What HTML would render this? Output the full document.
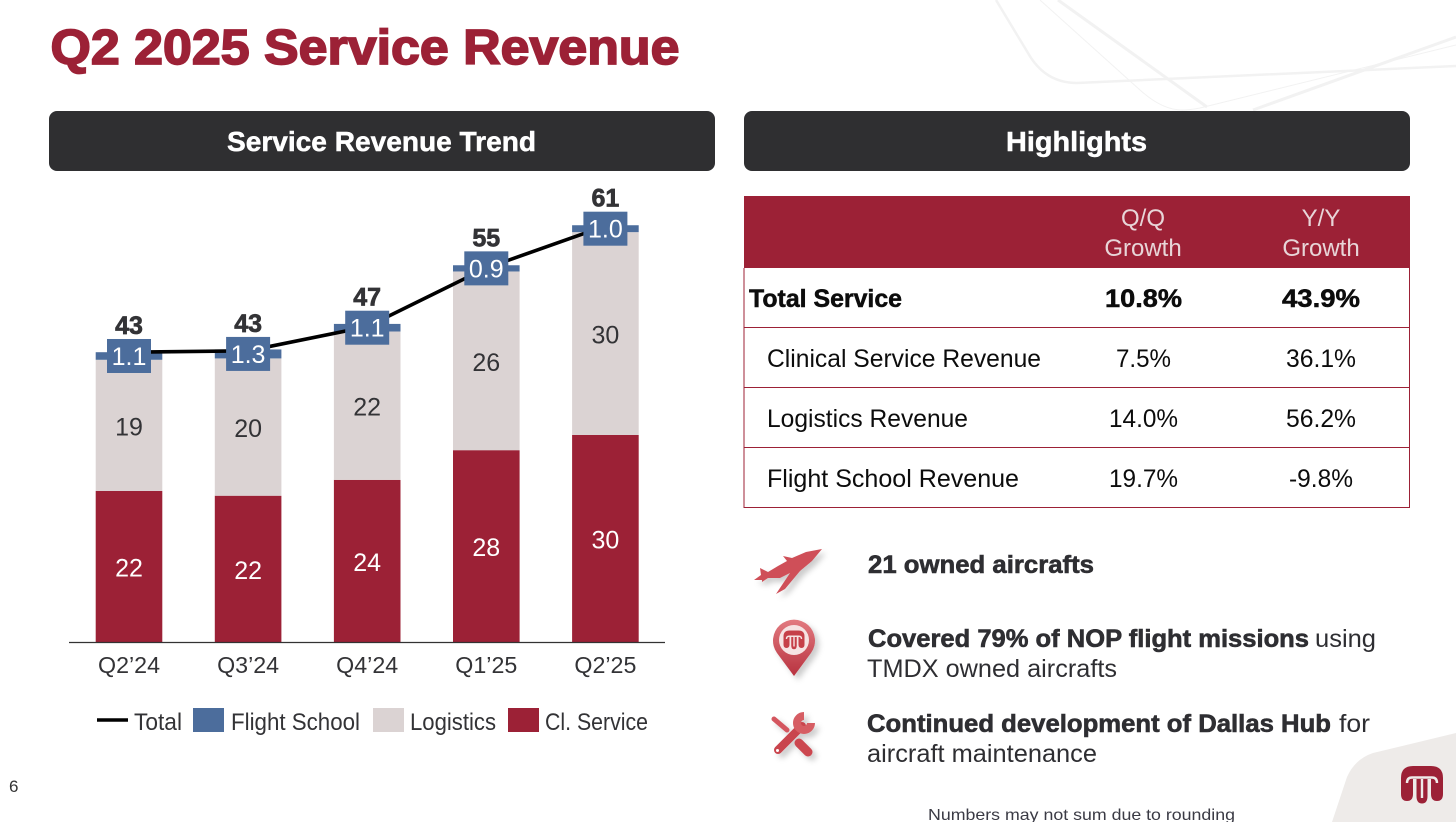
<!DOCTYPE html>
<html lang="en">
<head>
<meta charset="utf-8">
<title>Q2 2025 Service Revenue</title>
<style>
html,body{margin:0;padding:0;background:#fff;width:1456px;height:822px;overflow:hidden}
svg{display:block;font-family:"Liberation Sans",Arial,sans-serif}
.b{font-weight:700}
</style>
</head>
<body>
<svg id="slide" width="1456" height="822" viewBox="0 0 1456 822" xmlns="http://www.w3.org/2000/svg">
<defs>
<linearGradient id="redGrad" x1="0" y1="0" x2="0" y2="1"><stop offset="0" stop-color="#e27a80"/><stop offset="1" stop-color="#b8323f"/></linearGradient>
<filter id="soft" x="-30%" y="-30%" width="170%" height="170%"><feDropShadow dx="4" dy="4" stdDeviation="3" flood-color="#000" flood-opacity=".2"/></filter>
</defs>

<g fill="none" stroke="#f2f2f2">
<path d="M996 0L1028 53Q1045 83 1077 83L1456 66" stroke-width="2.5"/>
<path d="M1040 0L1140 90Q1162 110 1182 110Q1190 110 1200 108L1456 45" stroke-width="1"/>
<path d="M1058 0L1207 107" stroke-width="3"/>
<path d="M1253 110L1456 37" stroke-width="3"/>
</g>
<path d="M1456 733L1373 753Q1355 759 1347 777L1332 822H1456Z" fill="#eeebe9"/>

<text class="b" x="50.500" y="64" font-size="49" fill="#9c2136" stroke="#9c2136" stroke-width="1.7" textLength="629" lengthAdjust="spacingAndGlyphs">Q2 2025 Service Revenue</text>

<rect x="49" y="111" width="666" height="60" rx="8" fill="#2f2f31"/>
<text class="b" x="227" y="151" font-size="28" fill="#fff" stroke="#fff" stroke-width=".5" textLength="309" lengthAdjust="spacingAndGlyphs">Service Revenue Trend</text>
<rect x="744" y="111" width="666" height="60" rx="8" fill="#2f2f31"/>
<text class="b" x="1006" y="151" font-size="28" fill="#fff" stroke="#fff" stroke-width=".5" textLength="141" lengthAdjust="spacingAndGlyphs">Highlights</text>

<g id="chart"></g>

<g>
<rect x="744" y="196" width="666" height="72" fill="#9c2136"/>
<g fill="#e8d5d8" font-size="24" text-anchor="middle">
<text x="1143" y="226">Q/Q</text>
<text x="1143" y="256">Growth</text>
<text x="1321" y="226">Y/Y</text>
<text x="1321" y="256">Growth</text>
</g>
<g stroke="#9c2136" stroke-width="1">
<line x1="744" y1="268" x2="744" y2="508"/>
<line x1="1409.5" y1="268" x2="1409.5" y2="508"/>
<line x1="744" y1="327.500" x2="1410" y2="327.500"/>
<line x1="744" y1="387.500" x2="1410" y2="387.500"/>
<line x1="744" y1="447.500" x2="1410" y2="447.500"/>
<line x1="744" y1="507.500" x2="1410" y2="507.500"/>
</g>
<g fill="#0c0c0c" font-size="25">
<text class="b" x="749" y="307" textLength="153" lengthAdjust="spacingAndGlyphs" stroke="#0c0c0c" stroke-width=".5">Total Service</text>
<text class="b" x="1105" y="307" textLength="77" lengthAdjust="spacingAndGlyphs" stroke="#0c0c0c" stroke-width=".5">10.8%</text>
<text class="b" x="1282" y="307" textLength="78" lengthAdjust="spacingAndGlyphs" stroke="#0c0c0c" stroke-width=".5">43.9%</text>
<text x="767" y="367" textLength="274" lengthAdjust="spacingAndGlyphs">Clinical Service Revenue</text>
<text x="1116" y="367" textLength="55" lengthAdjust="spacingAndGlyphs">7.5%</text>
<text x="1286" y="367" textLength="70" lengthAdjust="spacingAndGlyphs">36.1%</text>
<text x="767" y="427" textLength="201" lengthAdjust="spacingAndGlyphs">Logistics Revenue</text>
<text x="1109" y="427" textLength="69" lengthAdjust="spacingAndGlyphs">14.0%</text>
<text x="1286" y="427" textLength="70" lengthAdjust="spacingAndGlyphs">56.2%</text>
<text x="767" y="487" textLength="252" lengthAdjust="spacingAndGlyphs">Flight School Revenue</text>
<text x="1109" y="487" textLength="69" lengthAdjust="spacingAndGlyphs">19.7%</text>
<text x="1289" y="487" textLength="64" lengthAdjust="spacingAndGlyphs">-9.8%</text>
</g>
</g>

<g filter="url(#soft)">
<path fill="#cf5058" d="M822 549L806 552 792 558 783 556 787 561 778 566 768 572 760 568 761 575 754 580 762 580 762 582 768 578 780 578 790 573 776 594 785 589 800 571 812 561Z"/>
</g>
<g filter="url(#soft)">
<path fill="url(#redGrad)" d="M794 676L777 653A21 21 0 1 1 811 653Z"/>
<circle cx="794" cy="640" r="15" fill="#f6e3e3"/>
<g transform="translate(794 640) scale(.5) translate(-1422 -785)">
<path fill="#c63f49" d="M1401 794V778Q1401 766 1413 766H1431Q1443 766 1443 778V794Q1443 801 1437 801Q1431 801 1431 794V779H1427.500V796Q1427.500 803.500 1422 803.500Q1416.500 803.500 1416.500 796V779H1413V794Q1413 801 1407 801Q1401 801 1401 794Z"/>
<path fill="none" stroke="#f6e3e3" stroke-width="2.800" d="M1407 783Q1407 777.500 1412 777.500H1432Q1437 777.500 1437 783M1422 779V798"/>
</g>
</g>
<g filter="url(#soft)" fill="none">
<path d="M774 719L787 730" stroke="#d4575e" stroke-width="5" stroke-linecap="round"/>
<path d="M799 743L808 752" stroke="#cc4650" stroke-width="9" stroke-linecap="round"/>
<path d="M778 750L802 726" stroke="#c9444d" stroke-width="8" stroke-linecap="round"/>
<path d="M804 716A7 7 0 1 0 811 723" stroke="#d65d63" stroke-width="8"/>
<circle cx="777.500" cy="750.500" r="1.500" fill="#fff"/>
</g>

<g fill="#2e2e32" font-size="25">
<text class="b" x="868" y="573" textLength="226" lengthAdjust="spacingAndGlyphs" stroke="#2e2e32" stroke-width=".6">21 owned aircrafts</text>
<text class="b" x="868" y="647" textLength="441" lengthAdjust="spacingAndGlyphs" stroke="#2e2e32" stroke-width=".6">Covered 79% of NOP flight missions</text>
<text x="1315" y="647" textLength="61" lengthAdjust="spacingAndGlyphs">using</text>
<text x="867" y="677" textLength="250" lengthAdjust="spacingAndGlyphs">TMDX owned aircrafts</text>
<text class="b" x="867" y="732" textLength="464" lengthAdjust="spacingAndGlyphs" stroke="#2e2e32" stroke-width=".6">Continued development of Dallas Hub</text>
<text x="1339" y="732" textLength="31" lengthAdjust="spacingAndGlyphs">for</text>
<text x="867" y="762" textLength="230" lengthAdjust="spacingAndGlyphs">aircraft maintenance</text>
</g>

<text x="9" y="792" font-size="17" fill="#333">6</text>
<text x="928" y="820" font-size="16" fill="#3a3a44" textLength="307" lengthAdjust="spacingAndGlyphs">Numbers may not sum due to rounding</text>
<g>
<path fill="#9c2136" d="M1401 794V778Q1401 766 1413 766H1431Q1443 766 1443 778V794Q1443 801 1437 801Q1431 801 1431 794V779H1427.500V796Q1427.500 803.500 1422 803.500Q1416.500 803.500 1416.500 796V779H1413V794Q1413 801 1407 801Q1401 801 1401 794Z"/>
<path fill="none" stroke="#eeebe9" stroke-width="2.400" d="M1407 783Q1407 777.500 1412 777.500H1432Q1437 777.500 1437 783M1422 779V798"/>
</g>
</svg>

<script>
const categories = ["Q2\u201924", "Q3\u201924", "Q4\u201924", "Q1\u201925", "Q2\u201925"];
const clinicalValues = [21.9, 21.2, 23.5, 27.8, 30.0];
const logisticsValues = [19.0, 19.9, 21.5, 25.9, 29.4];
const flightValues = [1.1, 1.3, 1.1, 0.9, 1.0];
const totalValues = [42.0, 42.2, 45.7, 54.2, 60.3];
const clinicalLabels = ["22", "22", "24", "28", "30"];
const logisticsLabels = ["19", "20", "22", "26", "30"];
const flightLabels = ["1.1", "1.3", "1.1", "0.9", "1.0"];
const totalLabels = ["43", "43", "47", "55", "61"];

const SVGNS = "http://www.w3.org/2000/svg";
const chart = document.getElementById("chart");
const baseY = 642, unit = 6.9, firstCenter = 129, pitch = 119.1, barW = 66.6;
const RED = "#9c2136", GRAY = "#dbd3d3", BLUE = "#4c6d9c", INK = "#333336";

function xScale(i) { return firstCenter + pitch * i; }
function yScale(v) { return baseY - v * unit; }
function make(tag, props, text) {
  const n = document.createElementNS(SVGNS, tag);
  for (const k in props) n.setAttribute(k, props[k]);
  if (text !== undefined) n.textContent = text;
  chart.appendChild(n);
  return n;
}

categories.forEach(function (cat, i) {
  const cx = xScale(i);
  const x = cx - barW / 2;
  const c = clinicalValues[i], l = logisticsValues[i], f = flightValues[i];

  const r1 = make("rect", { x: x, y: yScale(c), width: barW, height: c * unit, fill: RED });
  
  

  const r2 = make("rect", { x: x, y: yScale(c + l), width: barW, height: l * unit, fill: GRAY });
  
  

  const r3 = make("rect", { x: x, y: yScale(c + l + f), width: barW, height: f * unit, fill: BLUE });
  
  

  const t1 = make("text", { x: cx, y: yScale(c / 2) + 10, "text-anchor": "middle", "font-size": 25, fill: "#fff" }, clinicalLabels[i]);
  
  

  const t2 = make("text", { x: cx, y: yScale(c + l / 2) + 10, "text-anchor": "middle", "font-size": 25, fill: INK }, logisticsLabels[i]);
  
  

  const cat1 = make("text", { x: cx, y: 673, "text-anchor": "middle", "font-size": 23, fill: INK, textLength: 62, lengthAdjust: "spacingAndGlyphs" }, cat);
  
  
});

const axis = make("line", { x1: 69, x2: 665, y1: baseY + 0.5, y2: baseY + 0.5, stroke: "#333", "stroke-width": 1.2 });



const linePts = totalValues.map(function (v, i) { return xScale(i) + "," + yScale(v); }).join(" ");
const totalLine = make("polyline", { points: linePts, fill: "none", stroke: "#000", "stroke-width": 3.6 });



categories.forEach(function (cat, i) {
  const cx = xScale(i);
  const mid = yScale(clinicalValues[i] + logisticsValues[i] + flightValues[i] / 2);

  const box = make("rect", { x: cx - 22, y: mid - 17, width: 44, height: 34, fill: BLUE });
  
  

  const t3 = make("text", { x: cx, y: mid + 9, "text-anchor": "middle", "font-size": 25, fill: "#fff" }, flightLabels[i]);
  
  

  const t4 = make("text", { x: cx, y: mid - 22, "text-anchor": "middle", "font-size": 25, "font-weight": 700, fill: INK, stroke: INK, "stroke-width": 0.7 }, totalLabels[i]);
  
  
});

const legendLine = make("line", { x1: 97, x2: 128, y1: 720, y2: 720, stroke: "#000", "stroke-width": 3.6 });



const legendTotal = make("text", { x: 134, y: 730, "font-size": 24, fill: INK, textLength: 48, lengthAdjust: "spacingAndGlyphs" }, "Total");



const swatchFlight = make("rect", { x: 193, y: 708, width: 31, height: 24, fill: BLUE });



const legendFlight = make("text", { x: 231, y: 730, "font-size": 24, fill: INK, textLength: 129, lengthAdjust: "spacingAndGlyphs" }, "Flight School");



const swatchLogistics = make("rect", { x: 373, y: 708, width: 31, height: 24, fill: GRAY });



const legendLogistics = make("text", { x: 410, y: 730, "font-size": 24, fill: INK, textLength: 86, lengthAdjust: "spacingAndGlyphs" }, "Logistics");



const swatchClinical = make("rect", { x: 508, y: 708, width: 31, height: 24, fill: RED });



const legendClinical = make("text", { x: 545, y: 730, "font-size": 24, fill: INK, textLength: 103, lengthAdjust: "spacingAndGlyphs" }, "Cl. Service");


</script>
</body>
</html>
